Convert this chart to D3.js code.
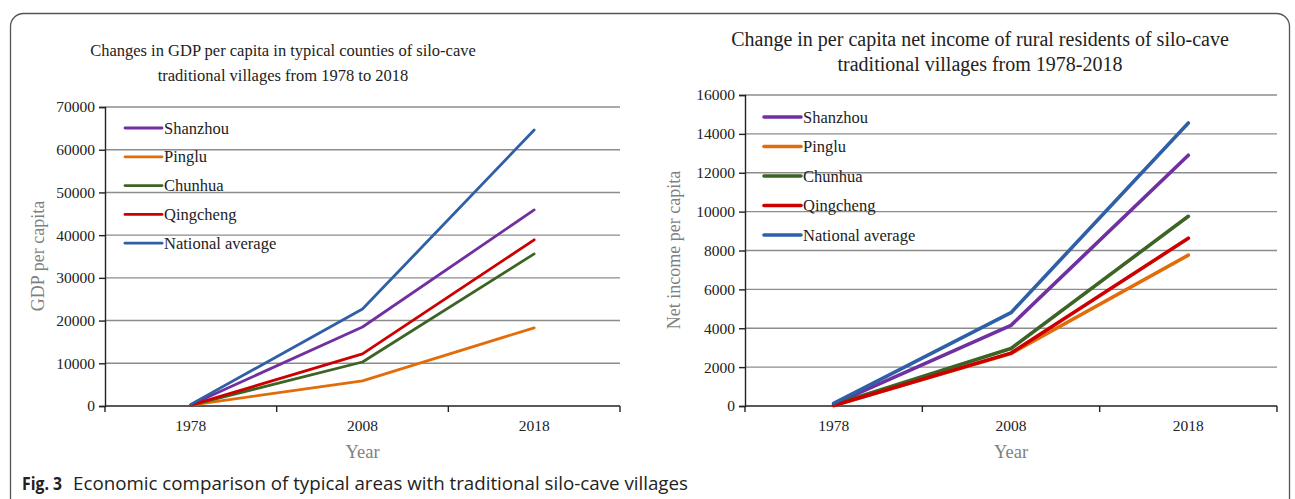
<!DOCTYPE html>
<html>
<head>
<meta charset="utf-8">
<script src="https://cdn.jsdelivr.net/npm/d3@7"></script>
<style>
  body { margin: 0; background: #fff; }
  svg { display: block; }
  .tick text { font-family: "Liberation Serif", serif; fill: #222; }
</style>
</head>
<body>
<div id="vis"></div>
<script>
// data
const YEARS = ["1978", "2008", "2018"];
const SERIES = ["Shanzhou", "Pinglu", "Chunhua", "Qingcheng", "National average"];
const COLORS = ["#7030a0", "#e36c0a", "#3c6424", "#cc0000", "#2f5fa7"];

// left panel: GDP per capita
const GDP_SHANZHOU = [300, 18500, 45900];
const GDP_PINGLU = [200, 5900, 18300];
const GDP_CHUNHUA = [200, 10300, 35600];
const GDP_QINGCHENG = [200, 12200, 38900];
const GDP_NATIONAL = [385, 22700, 64600];
const GDP_TICKS = [0, 10000, 20000, 30000, 40000, 50000, 60000, 70000];

// right panel: net income per capita
const INC_SHANZHOU = [100, 4150, 12900];
const INC_PINGLU = [30, 2700, 7760];
const INC_CHUNHUA = [60, 2960, 9760];
const INC_QINGCHENG = [30, 2720, 8630];
const INC_NATIONAL = [130, 4800, 14560];
const INC_TICKS = [0, 2000, 4000, 6000, 8000, 10000, 12000, 14000, 16000];

const FRAME_WIDTH = 1295;
const FRAME_HEIGHT = 499;

const SVG = d3.select("#vis")
  .append("svg")
    .attr("width", FRAME_WIDTH)
    .attr("height", FRAME_HEIGHT);

// rounded panel border (runs off the bottom of the picture)
SVG.append("rect")
  .attr("x", 10.5).attr("y", 13.5)
  .attr("width", 1279).attr("height", 540)
  .attr("rx", 13).attr("ry", 13)
  .attr("fill", "none")
  .attr("stroke", "#555")
  .attr("stroke-width", 1.3);

function drawChart(cfg) {
  const g = SVG.append("g");

  const X_SCALE = d3.scaleBand()
    .domain(YEARS)
    .range([cfg.left, cfg.right]);

  const Y_SCALE = d3.scaleLinear()
    .domain([0, d3.max(cfg.ticks)])
    .range([cfg.bottom, cfg.top]);

  // horizontal gridlines
  g.selectAll(".grid")
    .data(cfg.ticks.filter(d => d > 0))
    .enter()
    .append("line")
      .attr("x1", cfg.left).attr("x2", cfg.right)
      .attr("y1", d => Y_SCALE(d)).attr("y2", d => Y_SCALE(d))
      .attr("stroke", "#8c8c8c")
      .attr("stroke-width", 1.4);

  // y axis
  g.append("g")
    .attr("transform", "translate(" + cfg.left + ",0)")
    .call(d3.axisLeft(Y_SCALE).tickValues(cfg.ticks).tickSize(6).tickPadding(4)
      .tickFormat(d3.format("d")))
    .call(a => a.select(".domain").attr("stroke", "#222").attr("stroke-width", 1.4))
    .call(a => a.selectAll(".tick line").attr("stroke", "#222").attr("stroke-width", 1.4))
    .attr("font-size", cfg.tickFont);

  // x axis: labels centred in bands, tick marks on band edges
  g.append("g")
    .attr("transform", "translate(0," + cfg.bottom + ")")
    .call(d3.axisBottom(X_SCALE).tickSize(0).tickPadding(14))
    .call(a => a.select(".domain").remove())
    .attr("font-size", cfg.tickFont);

  g.append("line")
    .attr("x1", cfg.left).attr("x2", cfg.right)
    .attr("y1", cfg.bottom).attr("y2", cfg.bottom)
    .attr("stroke", "#222").attr("stroke-width", 1.6);

  const edges = YEARS.map(d => X_SCALE(d)).concat([X_SCALE(YEARS[YEARS.length - 1]) + X_SCALE.bandwidth()]);
  g.selectAll(".xtick")
    .data(edges)
    .enter()
    .append("line")
      .attr("x1", d => d).attr("x2", d => d)
      .attr("y1", cfg.bottom).attr("y2", cfg.bottom + 6)
      .attr("stroke", "#222").attr("stroke-width", 1.4);

  // series lines
  const line = d3.line()
    .x((d, i) => X_SCALE(YEARS[i]) + X_SCALE.bandwidth() / 2)
    .y(d => Y_SCALE(d));

  g.selectAll(".series")
    .data(cfg.values)
    .enter()
    .append("path")
      .attr("d", d => line(d))
      .attr("fill", "none")
      .attr("stroke", (d, i) => COLORS[i])
      .attr("stroke-width", cfg.lineWidth)
      .attr("stroke-linejoin", "round")
      .attr("stroke-linecap", "round");

  // legend
  const leg = g.selectAll(".legend")
    .data(SERIES)
    .enter()
    .append("g")
      .attr("transform", (d, i) => "translate(" + cfg.legX + "," + (cfg.legY + i * cfg.legStep) + ")");
  leg.append("line")
    .attr("x1", 0).attr("x2", 37)
    .attr("stroke", (d, i) => COLORS[i])
    .attr("stroke-width", cfg.lineWidth)
    .attr("stroke-linecap", "round");
  leg.append("text")
    .attr("x", 39).attr("y", 5.5)
    .attr("font-family", "Liberation Serif, serif")
    .attr("font-size", 16.5)
    .attr("fill", "#222")
    .text(d => d);

  // titles
  g.selectAll(".title")
    .data(cfg.title)
    .enter()
    .append("text")
      .attr("x", cfg.titleX)
      .attr("y", (d, i) => cfg.titleY + i * 25)
      .attr("text-anchor", "middle")
      .attr("font-family", "Liberation Serif, serif")
      .attr("font-size", cfg.titleFont)
      .attr("fill", "#222")
      .text(d => d);

  // axis titles
  g.append("text")
    .attr("x", (cfg.left + cfg.right) / 2)
    .attr("y", cfg.bottom + 52)
    .attr("text-anchor", "middle")
    .attr("font-family", "Liberation Serif, serif")
    .attr("font-size", 18.5)
    .attr("fill", "#7f7f7f")
    .text("Year");

  g.append("text")
    .attr("transform", "translate(" + cfg.yTitleX + "," + cfg.yTitleY + ") rotate(-90)")
    .attr("text-anchor", "middle")
    .attr("font-family", "Liberation Serif, serif")
    .attr("font-size", 18)
    .attr("fill", "#7f7f7f")
    .text(cfg.yTitle);
}

drawChart({
  left: 105, right: 620, top: 107, bottom: 406,
  ticks: GDP_TICKS,
  values: [GDP_SHANZHOU, GDP_PINGLU, GDP_CHUNHUA, GDP_QINGCHENG, GDP_NATIONAL],
  lineWidth: 2.8, tickFont: 15.5,
  legX: 125, legY: 128, legStep: 28.8,
  title: ["Changes in GDP per capita in typical counties of silo-cave",
          "traditional villages from 1978  to 2018"],
  titleFont: 16.5,
  titleX: 283, titleY: 56,
  yTitle: "GDP per capita", yTitleX: 44, yTitleY: 256
});

drawChart({
  left: 745, right: 1277, top: 95, bottom: 406,
  ticks: INC_TICKS,
  values: [INC_SHANZHOU, INC_PINGLU, INC_CHUNHUA, INC_QINGCHENG, INC_NATIONAL],
  lineWidth: 3.6, tickFont: 15.5,
  legX: 764, legY: 117, legStep: 29.5,
  title: ["Change in per capita net income of rural residents of silo-cave",
          "traditional villages  from 1978-2018"],
  titleFont: 20,
  titleX: 980, titleY: 46,
  yTitle: "Net income per capita", yTitleX: 680, yTitleY: 250
});

// figure caption
const CAP = SVG.append("text")
  .attr("x", 22).attr("y", 490)
  .attr("font-family", "Open Sans, sans-serif")
  .attr("font-size", 18.5)
  .attr("fill", "#222");
CAP.append("tspan").attr("font-weight", "bold").attr("textLength", 40)
  .attr("lengthAdjust", "spacingAndGlyphs").text("Fig. 3");
CAP.append("tspan").attr("x", 73).attr("textLength", 615)
  .attr("lengthAdjust", "spacingAndGlyphs")
  .text("Economic comparison of typical areas with traditional silo-cave villages");
</script>
</body>
</html>
